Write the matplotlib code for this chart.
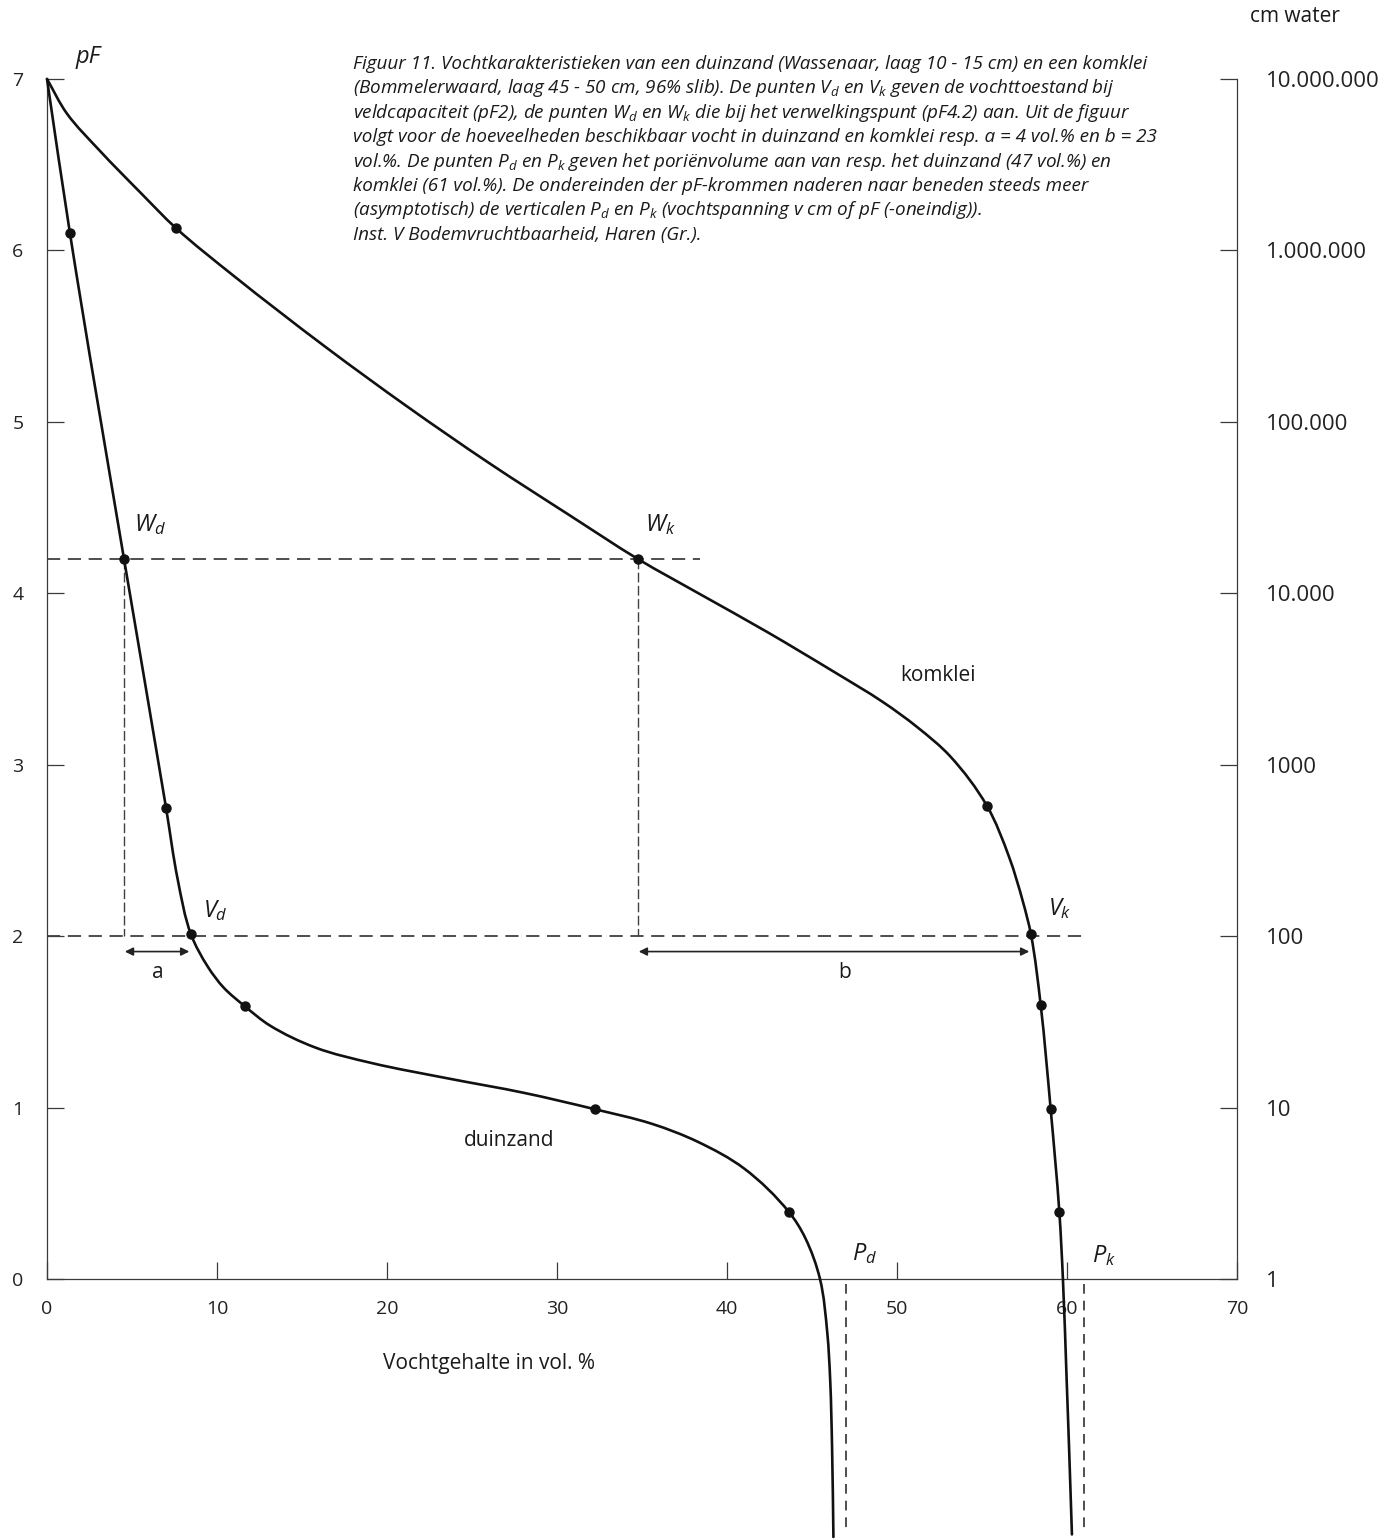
import matplotlib
matplotlib.use("Agg")
import matplotlib.pyplot as plt
import numpy as np
from matplotlib.path import Path
from matplotlib.patches import PathPatch

plt.rcParams['font.family'] = ['Open Sans', 'DejaVu Sans']
plt.rcParams['mathtext.fontset'] = 'custom'
plt.rcParams['mathtext.it'] = 'Open Sans:italic'
plt.rcParams['mathtext.rm'] = 'Open Sans'
plt.rcParams['mathtext.bf'] = 'Open Sans:bold'
plt.rcParams['lines.scale_dashes'] = False

# ---------------- data ----------------
# duinzand (dune sand): moisture content (vol.%) vs pF
duin_x = [0.0, 1.35, 4.53, 7.0, 7.69, 8.47, 9.47, 10.39, 11.65,
          13.09, 15.79, 19.09, 23.59, 28.1, 32.24, 35.59, 38.29, 41.0, 43.65,
          44.6, 45.47, 45.9, 46.07, 46.18, 46.26]
duin_pf = [7.0, 6.10, 4.20, 2.75, 2.33, 2.01, 1.82, 1.70, 1.59,
           1.48, 1.35, 1.26, 1.17, 1.085, 0.99, 0.905, 0.80, 0.645, 0.39,
           0.24, 0.0, -0.315, -0.59, -0.98, -1.505]
duin_dot_x = [1.35, 4.53, 7.0, 8.47, 11.65, 32.24, 43.65]
duin_dot_pf = [6.10, 4.20, 2.75, 2.01, 1.59, 0.99, 0.39]

# komklei (basin clay)
klei_x = [0.0, 1.16, 3.12, 5.47, 7.59, 10.94, 16.41, 21.18, 26.0, 30.82, 34.76,
          38.41, 42.35, 46.24, 49.18, 51.18, 53.12, 55.29, 56.6, 57.41,
          57.88, 58.45, 59.04, 59.55, 59.76, 59.98, 60.12, 60.29]
klei_pf = [7.0, 6.80, 6.58, 6.34, 6.13, 5.855, 5.435, 5.09, 4.76, 4.45, 4.20,
           3.995, 3.775, 3.545, 3.365, 3.22, 3.05, 2.76, 2.46, 2.20,
           2.01, 1.60, 0.99, 0.39, 0.0, -0.59, -0.98, -1.49]
klei_dot_x = [7.59, 34.76, 55.29, 57.88, 58.45, 59.04, 59.55]
klei_dot_pf = [6.13, 4.20, 2.76, 2.01, 1.60, 0.99, 0.39]

# reference levels
pf_wilt = 4.2
pf_field = 2.0
wd_x, wk_x = 4.53, 34.76
vd_x, vk_x = 8.47, 57.88
pore_d, pore_k = 47, 61
wilt_line_end = 38.4
field_line_end = 60.9
pore_bottom = -1.47

x_ticks = [0, 10, 20, 30, 40, 50, 60, 70]
x_ticklabels = ['0', '10', '20', '30', '40', '50', '60', '70']
pf_ticks = [0, 1, 2, 3, 4, 5, 6, 7]
pf_ticklabels = ['0', '1', '2', '3', '4', '5', '6', '7']
cm_ticklabels = ['1', '10', '100', '1000', '10.000', '100.000', '1.000.000', '10.000.000']

caption_lines = [
    "Figuur 11. Vochtkarakteristieken van een duinzand (Wassenaar, laag 10 - 15 cm) en een komklei",
    "(Bommelerwaard, laag 45 - 50 cm, 96% slib). De punten $V_d$ en $V_k$ geven de vochttoestand bij",
    "veldcapaciteit (pF2), de punten $W_d$ en $W_k$ die bij het verwelkingspunt (pF4.2) aan. Uit de figuur",
    "volgt voor de hoeveelheden beschikbaar vocht in duinzand en komklei resp. a = 4 vol.% en b = 23",
    "vol.%. De punten $P_d$ en $P_k$ geven het poriënvolume aan van resp. het duinzand (47 vol.%) en",
    "komklei (61 vol.%). De ondereinden der pF-krommen naderen naar beneden steeds meer",
    "(asymptotisch) de verticalen $P_d$ en $P_k$ (vochtspanning v cm of pF (-oneindig)).",
    "Inst. V Bodemvruchtbaarheid, Haren (Gr.).",
]

# ---------------- figure ----------------
W, H = 1383, 1539
fig = plt.figure(figsize=(W / 100, H / 100), dpi=100)
x0px, x1px, ytop = 47, 1237, 79
px_per_pf = 1200 / 7.0
ax = fig.add_axes([x0px / W, 0, (x1px - x0px) / W, 1 - ytop / H])
ax.set_xlim(0, 70)
ax.set_ylim(7 - (H - ytop) / px_per_pf, 7)

axis_col = '#3a3a3a'
for s in ['top', 'right']:
    ax.spines[s].set_visible(False)
ax.spines['left'].set_bounds(0, 7)
ax.spines['bottom'].set_position(('data', 0))
for s in ['left', 'bottom']:
    ax.spines[s].set_color(axis_col)
    ax.spines[s].set_linewidth(0.9)

ax.set_xticks(x_ticks)
ax.set_xticklabels(x_ticklabels)
ax.set_yticks(pf_ticks)
ax.set_yticklabels(pf_ticklabels)
ax.tick_params(axis='both', direction='in', length=12.2, width=0.9, color=axis_col,
               labelsize=14, labelcolor='#222222')
ax.tick_params(axis='x', pad=15)
ax.tick_params(axis='y', pad=17)

ax2 = ax.twinx()
ax2.set_ylim(ax.get_ylim())
for s in ['top', 'left', 'bottom']:
    ax2.spines[s].set_visible(False)
ax2.spines['right'].set_bounds(0, 7)
ax2.spines['right'].set_color(axis_col)
ax2.spines['right'].set_linewidth(0.9)
ax2.set_yticks(pf_ticks)
ax2.set_yticklabels(cm_ticklabels, ha='left')
ax2.tick_params(axis='y', direction='in', length=12.2, width=0.9, color=axis_col,
                labelsize=16, labelcolor='#222222', pad=21)


def smooth_path(axes, xs, ys):
    """Smooth curve through the given data points (cubic Bezier segments,
    tangent = bisector of neighbouring chords, computed in display space)."""
    P = axes.transData.transform(np.column_stack([xs, ys]))
    n = len(P)
    T = np.zeros_like(P)
    for i in range(n):
        if i == 0:
            d = P[1] - P[0]
        elif i == n - 1:
            d = P[-1] - P[-2]
        else:
            a = P[i + 1] - P[i]
            b = P[i] - P[i - 1]
            d = a / np.linalg.norm(a) + b / np.linalg.norm(b)
        T[i] = d / np.linalg.norm(d)
    verts = [P[0]]
    codes = [Path.MOVETO]
    for i in range(n - 1):
        L = np.linalg.norm(P[i + 1] - P[i]) / 3.0
        verts += [P[i] + T[i] * L, P[i + 1] - T[i + 1] * L, P[i + 1]]
        codes += [Path.CURVE4] * 3
    V = axes.transData.inverted().transform(np.array(verts))
    return Path(V, codes)


curve_col = '#111111'
for xs, ys in [(duin_x, duin_pf), (klei_x, klei_pf)]:
    patch = PathPatch(smooth_path(ax, xs, ys), facecolor='none', edgecolor=curve_col,
                      lw=1.9, transform=ax.transData, clip_on=False, zorder=5,
                      capstyle='round', joinstyle='round')
    ax.add_patch(patch)
ax.plot(duin_dot_x, duin_dot_pf, 'o', color=curve_col, ms=6.5, zorder=6, clip_on=False)
ax.plot(klei_dot_x, klei_dot_pf, 'o', color=curve_col, ms=6.5, zorder=6, clip_on=False)

dash_col = '#404040'
ax.plot([0, wilt_line_end], [pf_wilt, pf_wilt], color=dash_col, lw=1.3, dashes=(9.5, 5.5), zorder=3)
ax.plot([0, field_line_end], [pf_field, pf_field], color=dash_col, lw=1.3, dashes=(9.5, 5.5), zorder=3)
ax.plot([wd_x, wd_x], [pf_wilt, pf_field], color=dash_col, lw=1.0, dashes=(7, 2.5), zorder=3)
ax.plot([wk_x, wk_x], [pf_wilt, pf_field], color=dash_col, lw=1.0, dashes=(7, 2.5), zorder=3)
ax.plot([pore_d, pore_d], [-0.03, pore_bottom], color=dash_col, lw=1.3, dashes=(7, 5), zorder=3)
ax.plot([pore_k, pore_k], [-0.03, pore_bottom], color=dash_col, lw=1.3, dashes=(7, 5), zorder=3)

arrow_pf = 1.91
for xa, xb in [(wd_x, vd_x), (wk_x, vk_x)]:
    ax.annotate('', xy=(xb - 0.1, arrow_pf), xytext=(xa + 0.05, arrow_pf),
                arrowprops=dict(arrowstyle='<|-|>', lw=1.2, color='#222222',
                                mutation_scale=12, shrinkA=0, shrinkB=0))

lab = dict(fontsize=15, color='#1a1a1a')
ax.text(6.5, 1.79, 'a', ha='center', va='center', **lab)
ax.text(46.9, 1.79, 'b', ha='center', va='center', **lab)
ax.text(52.4, 3.52, 'komklei', ha='center', va='center', **lab)
ax.text(27.2, 0.81, 'duinzand', ha='center', va='center', **lab)

sub = dict(fontsize=17, color='#1a1a1a', ha='left', va='baseline')
ax.text(5.1, 4.36, '$W_d$', **sub)
ax.text(35.2, 4.36, '$W_k$', **sub)
ax.text(9.2, 2.11, '$V_d$', **sub)
ax.text(58.9, 2.12, '$V_k$', **sub)
ax.text(47.35, 0.11, '$P_d$', **sub)
ax.text(61.5, 0.10, '$P_k$', **sub)

fig.text(88 / W, 1 - 57 / H, 'pF', fontsize=17, style='italic', ha='center', va='center', color='#1a1a1a')
fig.text(1295 / W, 1 - 17 / H, 'cm water', fontsize=15, ha='center', va='center', color='#1a1a1a')
fig.text(489 / W, 1 - 1363 / H, 'Vochtgehalte in vol. %', fontsize=15, ha='center', va='center',
         color='#1a1a1a')

# caption
cap_x, cap_base, cap_step = 353, 69, 24.4
texts = []
for i, line in enumerate(caption_lines):
    t = fig.text(cap_x / W, 1 - (cap_base + i * cap_step) / H, line, fontsize=12,
                 style='italic', ha='left', va='baseline', color='#1a1a1a')
    texts.append(t)
r = fig.canvas.get_renderer()
wpx = texts[0].get_window_extent(r).width
size = 12 * 794 / wpx
for t in texts:
    t.set_fontsize(size)

fig.savefig('out.png', dpi=100)
